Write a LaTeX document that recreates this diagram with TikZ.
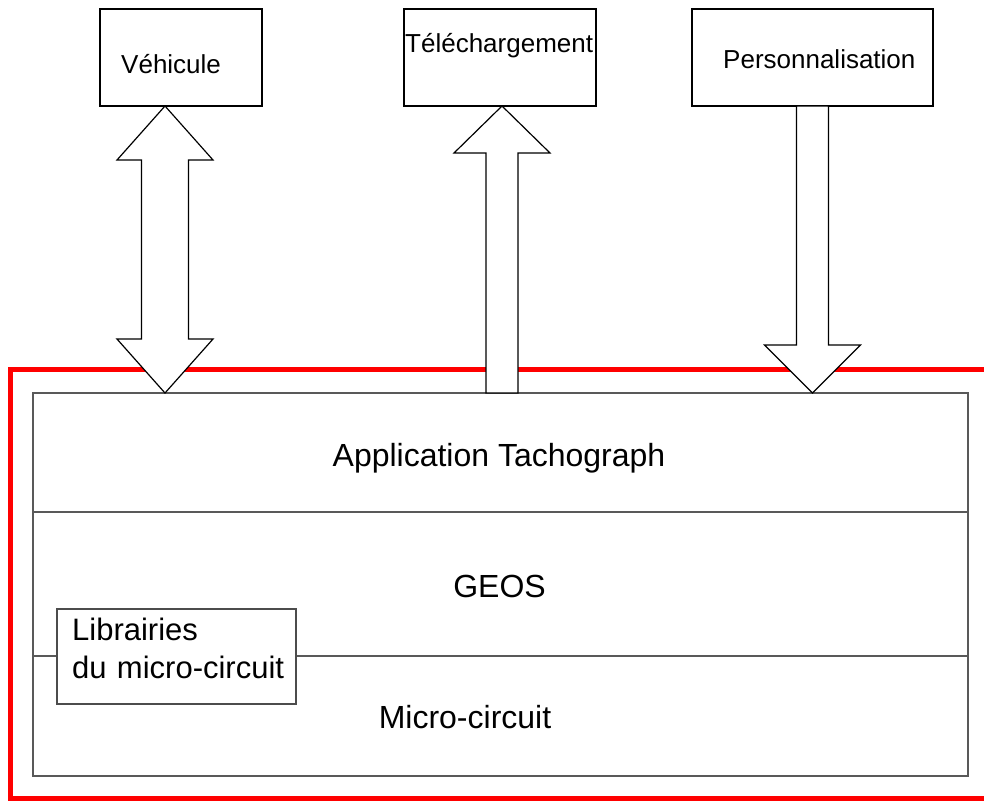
\documentclass[tikz,border=0pt]{standalone}
\usepackage{fontspec}
\setmainfont{Liberation Sans}
\usetikzlibrary{positioning, calc}

\begin{document}
\begin{tikzpicture}[
  x=1pt, y=-1pt,
  topbox/.style={rectangle, draw=black, line width=1.6pt, fill=white,
                 inner sep=0pt, outer sep=0pt, minimum height=97pt},
  layer/.style={rectangle, draw=black!65, line width=1.3pt, inner sep=0pt,
                outer sep=0pt, minimum width=935pt},
  libbox/.style={rectangle, draw=black!70, line width=1.1pt, fill=white,
                 inner sep=0pt, outer sep=0pt},
  toptxt/.style={inner sep=0pt, anchor=base west, font=\fontsize{26}{31}\selectfont},
  maintxt/.style={inner sep=0pt, anchor=base, font=\fontsize{32}{38}\selectfont},
  blockarr/.style={draw=black, line width=1.2pt, fill=white, line join=miter},
  frame/.style={draw=red, line width=5pt}
]
  \useasboundingbox (0,0) rectangle (984,801);

  % red frame, open on the right
  \draw[frame] (984,369) -- (10,369) -- (10,798) -- (984,798);

  % layers
  \node[layer, minimum height=119pt] (app) at (500.5,452.5) {};
  \node[layer, minimum height=144pt, below=0pt of app] (geos) {};
  \node[layer, minimum height=120pt, below=0pt of geos] (micro) {};
  \node[maintxt] (apptxt) at (499,466) {Application Tachograph};
  \node[maintxt] (geostxt) at (499.5,597) {GEOS};
  \node[maintxt] (microtxt) at (465,728) {Micro-circuit};

  \node[libbox, minimum width=239pt, minimum height=95pt] (lib) at (176.5,656.5) {};
  \node[inner sep=0pt, anchor=base west, text width=230pt, align=left,
        font=\fontsize{31}{38}\selectfont] (libtxt) at (72,640)
        {Librairies\\du micro-circuit};

  % top boxes
  \node[topbox, minimum width=162pt] (veh) at (181,57.5) {};
  \node[topbox, minimum width=192pt, right=142pt of veh] (tel) {};
  \node[topbox, minimum width=241pt, right=96pt of tel] (pers) {};
  \node[toptxt] (vehtxt) at (121,73) {Véhicule};
  \node[toptxt] (teltxt) at (405,52) {Téléchargement};
  \node[toptxt] (perstxt) at (723,68) {Personnalisation};

  % block arrows
  \coordinate (vehtip) at ($(veh.south)+(-16,0)$);
  \coordinate (vehfoot) at (vehtip |- app.north);
  \coordinate (teltip) at ($(tel.south)+(2,0)$);
  \coordinate (telfoot) at (teltip |- app.north);
  \coordinate (perstop) at (pers.south);
  \coordinate (persfoot) at (perstop |- app.north);

  \draw[blockarr] (vehtip) -- ++(48,54) -- ++(-24.5,0) -- ++(0,179) -- ++(24.5,0)
    -- (vehfoot) -- ++(-48,-54) -- ++(24.5,0) -- ++(0,-179) -- ++(-24.5,0) -- cycle;
  \draw[blockarr] (teltip) -- ++(48,47) -- ++(-32,0) -- ($(telfoot)+(16,0)$)
    -- ($(telfoot)+(-16,0)$) -- ++(0,-240) -- ++(-32,0) -- cycle;
  \draw[blockarr] ($(perstop)+(-16,0)$) -- ++(0,239) -- ++(-32,0) -- (persfoot)
    -- ++(48,-48) -- ++(-32,0) -- ($(perstop)+(16,0)$) -- cycle;
\end{tikzpicture}
\end{document}
